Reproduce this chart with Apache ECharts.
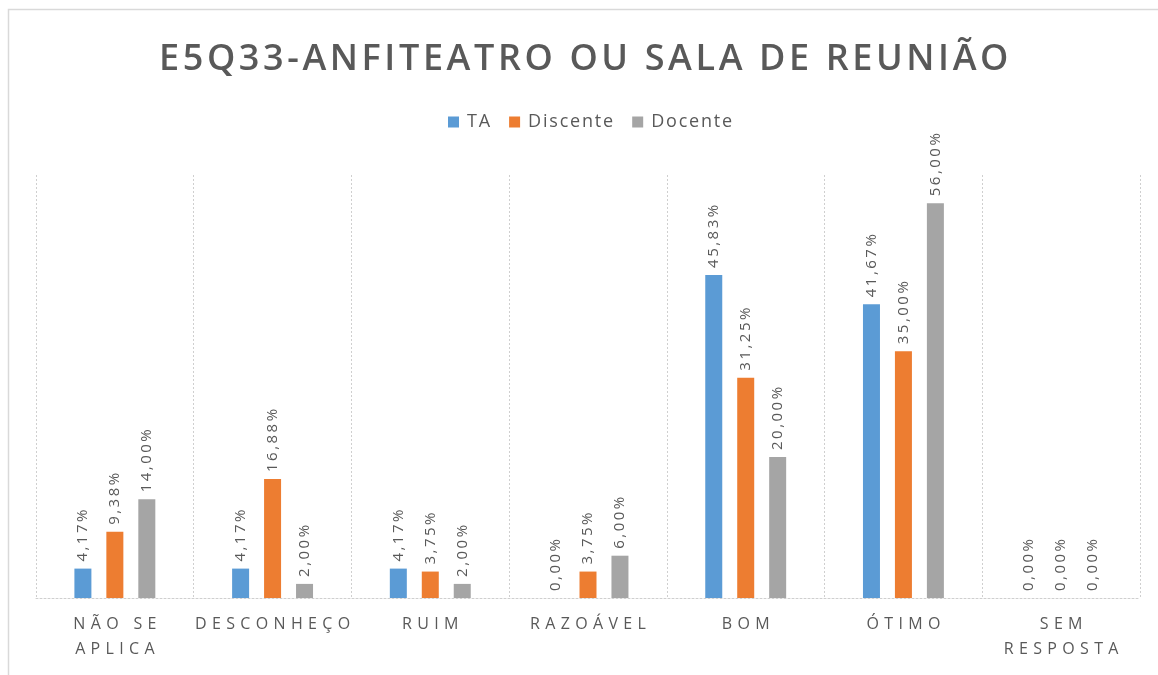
<!DOCTYPE html>
<html>
<head>
<meta charset="utf-8">
<script src="https://cdn.jsdelivr.net/npm/echarts@6/dist/echarts.min.js"></script>
<style>
  html, body { margin: 0; padding: 0; background: #ffffff; }
  #chart { width: 1158px; height: 675px; }
</style>
</head>
<body>
<div id="chart"></div>
<script>
// Survey answers for item E5Q33, percentage of each respondent group
const titleText = 'E5Q33-ANFITEATRO OU SALA DE REUNIÃO';
const categories = ['NÃO SE\nAPLICA', 'DESCONHEÇO', 'RUIM', 'RAZOÁVEL', 'BOM', 'ÓTIMO', 'SEM\nRESPOSTA'];
const seriesNames = ['TA', 'Discente', 'Docente'];
const taValues = [4.17, 4.17, 4.17, 0.00, 45.83, 41.67, 0.00];
const discenteValues = [9.38, 16.88, 3.75, 3.75, 31.25, 35.00, 0.00];
const docenteValues = [14.00, 2.00, 2.00, 6.00, 20.00, 56.00, 0.00];

const colors = ['#5b9bd5', '#ed7d31', '#a5a5a5'];
const textGray = '#595959';

// widen letter spacing by inserting thin spaces between characters
function spaced(str, sep) {
  return str.split('\n').map(line => Array.from(line).join(sep)).join('\n');
}

function pct(v) {
  return v.toFixed(2).replace('.', ',') + '%';
}

function barSeries(name, data, color) {
  return {
    name: name,
    type: 'bar',
    data: data,
    barWidth: 17,
    barGap: '88%',
    itemStyle: { color: color },
    label: {
      show: true,
      position: 'top',
      rotate: 90,
      align: 'left',
      verticalAlign: 'middle',
      distance: 7,
      color: textGray,
      fontFamily: 'Open Sans',
      fontSize: 15,
      formatter: p => spaced(pct(p.value), '\u2009')
    }
  };
}

const chart = echarts.init(document.getElementById('chart'), null, { renderer: 'canvas' });

chart.setOption({
  backgroundColor: '#ffffff',
  animation: false,
  title: {
    text: spaced(titleText, '\u200A'),
    left: 154,
    top: 37,
    textStyle: {
      color: textGray,
      fontFamily: 'Open Sans',
      fontWeight: 600,
      fontSize: 36
    }
  },
  legend: {
    data: seriesNames,
    top: 113,
    left: 448,
    padding: 0,
    icon: 'rect',
    itemWidth: 11,
    itemHeight: 11,
    itemGap: 19,
    formatter: name => spaced(name, '\u200A'),
    textStyle: {
      color: textGray,
      fontFamily: 'Open Sans',
      fontSize: 18,
      padding: [0, 0, 0, 3]
    }
  },
  graphic: [{
    type: 'rect',
    shape: { x: 8.5, y: 9.5, width: 1200, height: 700 },
    style: { fill: 'none', stroke: '#d9d9d9', lineWidth: 1.5 },
    silent: true
  }],
  grid: {
    left: 36,
    right: 18,
    top: 175,
    bottom: 77,
    containLabel: false
  },
  xAxis: {
    type: 'category',
    data: categories,
    axisTick: { show: false },
    axisLine: {
      show: true,
      lineStyle: { color: '#cfcfcf', type: [2, 2], width: 1 }
    },
    splitLine: {
      show: true,
      interval: 0,
      lineStyle: { color: '#cfcfcf', type: [2, 2], width: 1 }
    },
    axisLabel: {
      interval: 0,
      margin: 14,
      color: textGray,
      fontFamily: 'Open Sans',
      fontSize: 16,
      lineHeight: 25,
      formatter: v => spaced(v, '\u2004')
    }
  },
  yAxis: {
    type: 'value',
    min: 0,
    max: 60,
    interval: 10,
    show: false,
    splitLine: { show: false }
  },
  series: [
    barSeries(seriesNames[0], taValues, colors[0]),
    barSeries(seriesNames[1], discenteValues, colors[1]),
    barSeries(seriesNames[2], docenteValues, colors[2])
  ]
});
</script>
</body>
</html>
